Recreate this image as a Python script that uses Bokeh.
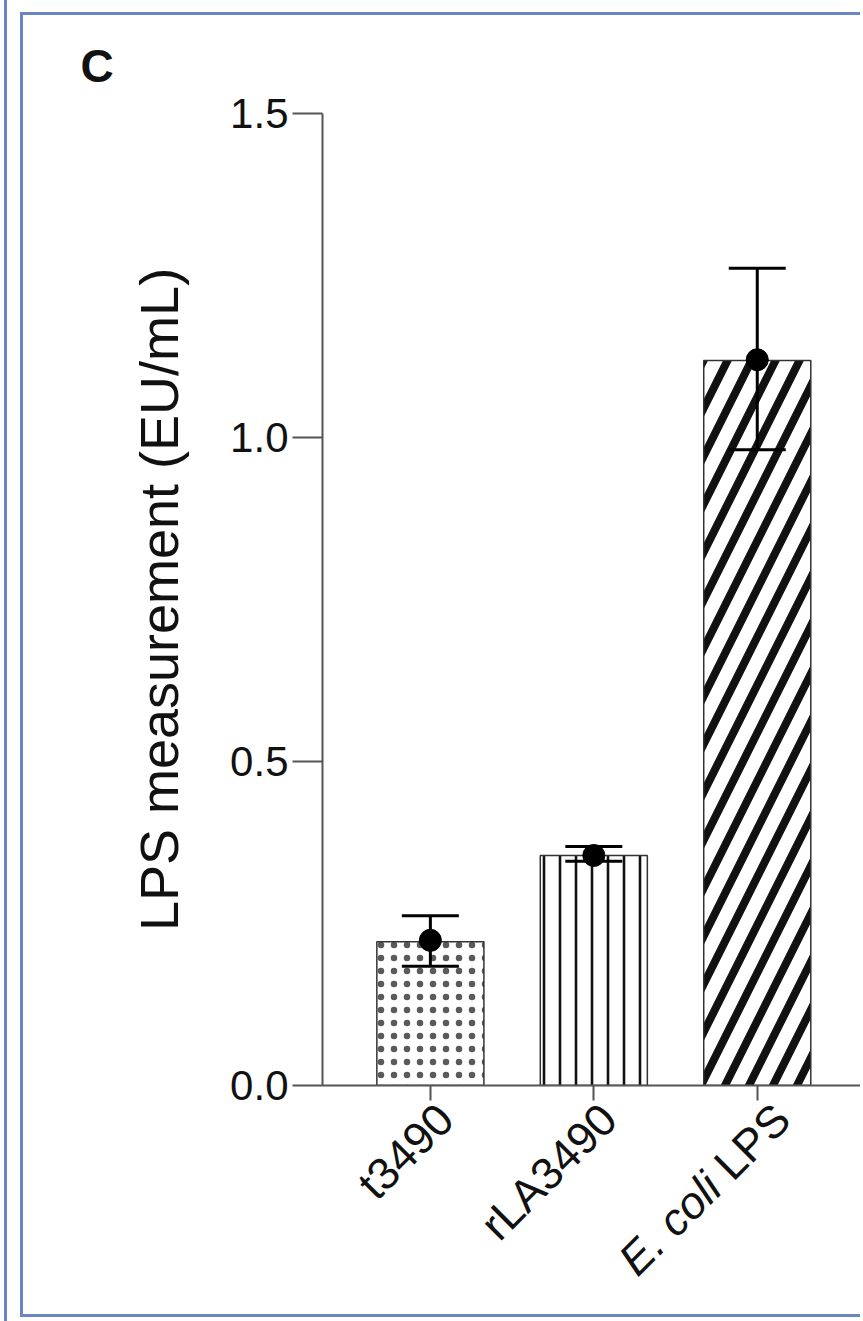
import math
from bokeh.plotting import figure
from bokeh.models import (Range1d, FixedTicker, PrintfTickFormatter, ColumnDataSource,
                          Whisker, TeeHead)
from bokeh.core.properties import value
from bokeh.embed import file_html
from bokeh.resources import INLINE

# ---------------- data ----------------
categories = ["t3490", "rLA3490", "E. coli LPS"]
italic_prefix = ["", "", "E. coli"]          # part of each label set in italics
bar_values = [0.222, 0.355, 1.119]
point_values = [0.224, 0.355, 1.120]
err_lower = [0.184, 0.346, 0.981]
err_upper = [0.262, 0.369, 1.261]
y_ticks = [0.0, 0.5, 1.0, 1.5]
y_label = "LPS measurement (EU/mL)"
panel_letter = "C"

# ---------------- styles ----------------
hatch_patterns = ["dot", "vertical_line", "right_diagonal_line"]
hatch_scales = [13, 16, 48]
hatch_weights = [3, 2.6, 8]
hatch_colors = ["#5a5a5a", "#111111", "#111111"]
label_extra_dx = [0, 0, 10]                   # small per-label nudge (px)
FONT = "Liberation Sans"
AXIS_COLOR = "#555555"
TEXT_COLOR = "#111111"
BORDER_COLOR = "#6a86c4"
TICK_PX = 42
XLABEL_PX = 45

# Liberation Sans advance widths (em) for the label split
CHAR_W = {" ": 0.278, "L": 0.556, "P": 0.667, "S": 0.667}

x = list(range(len(categories)))

p = figure(width=840, height=1305, output_backend="svg", toolbar_location=None,
           x_range=Range1d(-0.66, 2.65), y_range=Range1d(0, 1.5),
           min_border_left=299, min_border_right=0, min_border_top=98,
           min_border_bottom=235,
           styles={"margin-left": "20px", "margin-top": "12px",
                   "border-left": f"3px solid {BORDER_COLOR}",
                   "border-top": f"3px solid {BORDER_COLOR}",
                   "border-bottom": f"3px solid {BORDER_COLOR}",
                   "outline": f"3px solid {BORDER_COLOR}",
                   "outline-offset": "13px"})
p.xgrid.visible = False
p.ygrid.visible = False
p.outline_line_color = None
p.background_fill_color = "white"
p.border_fill_color = "white"

src = ColumnDataSource(dict(x=x, top=bar_values, pt=point_values,
                            lower=err_lower, upper=err_upper,
                            hp=hatch_patterns, hs=hatch_scales,
                            hw=hatch_weights, hc=hatch_colors))

p.vbar(x="x", top="top", bottom=0, width=0.655, source=src,
       fill_color="white", line_color="#333333", line_width=1.5,
       hatch_pattern="hp", hatch_scale="hs", hatch_weight="hw", hatch_color="hc")

whisk = Whisker(base="x", lower="lower", upper="upper", source=src, dimension="height",
                line_color="black", line_width=3, level="annotation",
                upper_head=TeeHead(size=57, line_color="black", line_width=3),
                lower_head=TeeHead(size=57, line_color="black", line_width=3))
p.add_layout(whisk)

p.scatter(x="x", y="pt", source=src, size=22, color="black", level="overlay")

# y axis
ya = p.yaxis[0]
ya.ticker = FixedTicker(ticks=y_ticks, minor_ticks=[])
ya.formatter = PrintfTickFormatter(format="%.1f")
ya.axis_line_color = AXIS_COLOR
ya.axis_line_width = 2
ya.major_tick_line_color = AXIS_COLOR
ya.major_tick_line_width = 2
ya.major_tick_out = 30
ya.major_tick_in = 0
ya.minor_tick_line_color = None
ya.major_label_standoff = 4
ya.major_label_text_font = FONT
ya.major_label_text_font_size = f"{TICK_PX}px"
ya.major_label_text_color = TEXT_COLOR
ya.axis_label = y_label
ya.axis_label_text_font = FONT
ya.axis_label_text_font_size = "54px"
ya.axis_label_text_font_style = "normal"
ya.axis_label_text_color = TEXT_COLOR
ya.axis_label_standoff = 38

# x axis (its own labels are replaced by the rotated text below)
xa = p.xaxis[0]
xa.ticker = FixedTicker(ticks=x, minor_ticks=[])
xa.axis_line_color = AXIS_COLOR
xa.axis_line_width = 2
xa.major_tick_line_color = AXIS_COLOR
xa.major_tick_line_width = 2
xa.major_tick_out = 15
xa.major_tick_in = 0
xa.minor_tick_line_color = None
xa.major_label_text_font_size = "1px"
xa.major_label_text_color = None

# rotated category labels (drawn as text glyphs, above the frame clip)
ang = math.pi / 4
c45 = math.cos(ang)
base_dx, base_dy = 15, 26
lx, ly, lt, lstyle, ldx, ldy = [], [], [], [], [], []
for xi, cat, ital, extra in zip(x, categories, italic_prefix, label_extra_dx):
    roman = cat[len(ital):].strip() if ital else cat
    lx.append(xi); ly.append(0); lt.append(roman); lstyle.append("normal")
    ldx.append(base_dx + extra); ldy.append(base_dy)
    if ital:
        w = sum(CHAR_W.get(ch, 0.6) for ch in " " + roman) * XLABEL_PX
        lx.append(xi); ly.append(0); lt.append(ital); lstyle.append("italic")
        ldx.append(base_dx + extra - w * c45); ldy.append(base_dy + w * c45)
lab_src = ColumnDataSource(dict(x=lx, y=ly, text=lt, style=lstyle, dx=ldx, dy=ldy))
p.text(x="x", y="y", text="text", source=lab_src, angle=ang,
       x_offset="dx", y_offset="dy", text_align="right", text_baseline="middle",
       text_font=value(FONT), text_font_size=f"{XLABEL_PX}px",
       text_font_style="style", text_color=TEXT_COLOR, level="overlay")

# panel letter as the title
p.title.text = panel_letter
p.title.text_font = FONT
p.title.text_font_size = "46px"
p.title.text_font_style = "bold"
p.title.text_color = TEXT_COLOR
p.title.align = "left"
p.title.offset = -242
p.title.standoff = 43

open("out.html", "w").write(file_html(p, INLINE))
